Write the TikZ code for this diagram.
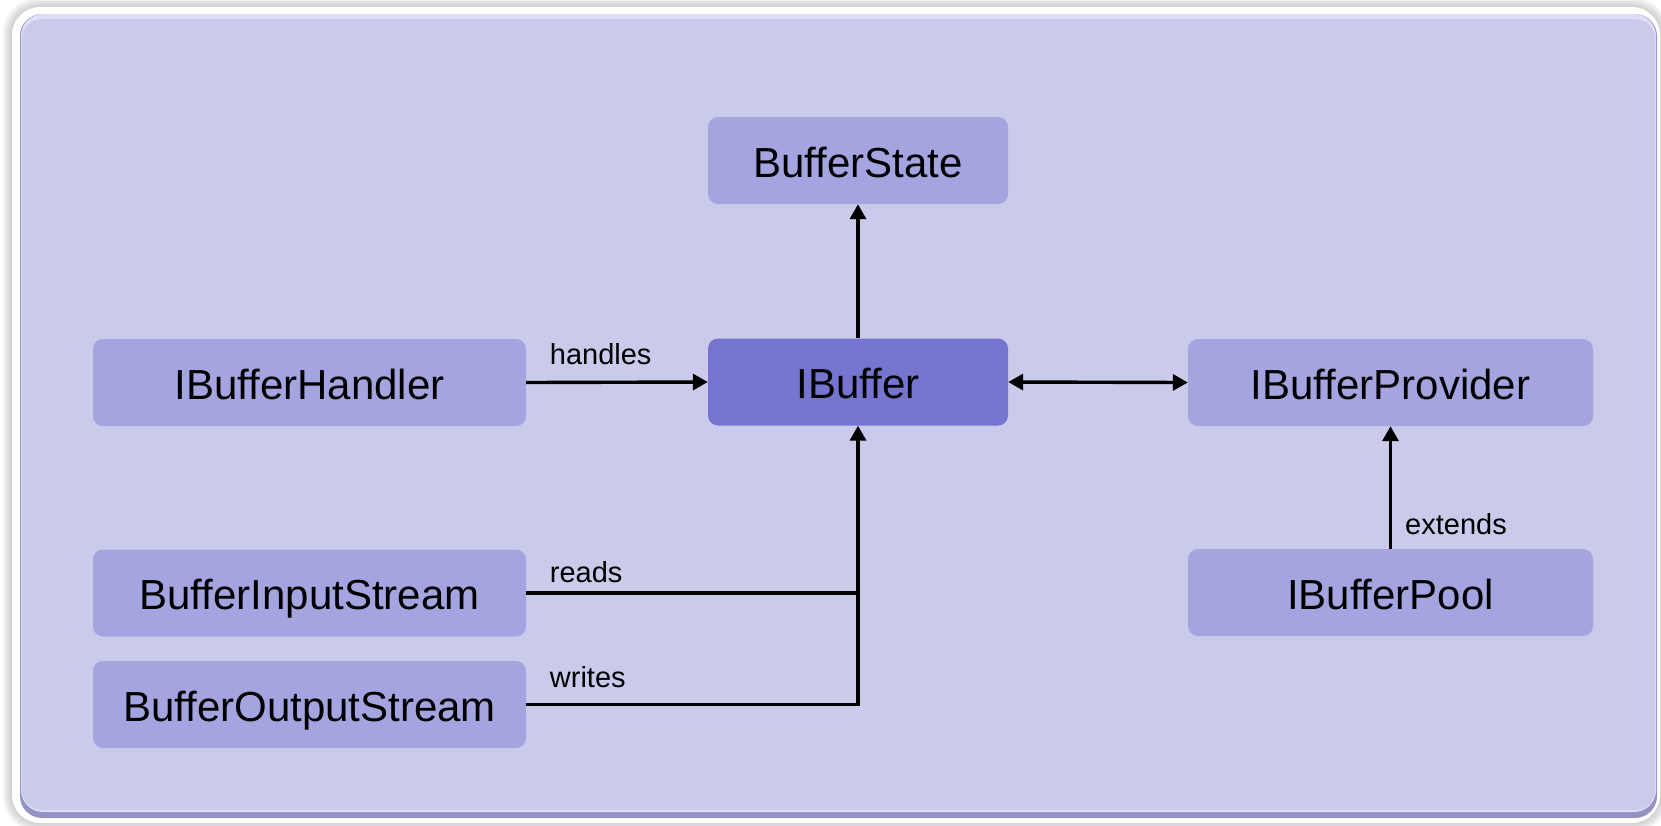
\documentclass[tikz,border=0pt]{standalone}
\usepackage{fontspec}
\setmainfont{Liberation Sans}
\usetikzlibrary{arrows.meta,calc}

\definecolor{framebg}{RGB}{202,202,234}
\definecolor{framelight}{RGB}{222,222,248}
\definecolor{framedark}{RGB}{146,146,196}
\definecolor{nodefill}{RGB}{164,164,224}
\definecolor{corefill}{RGB}{117,117,208}

\tikzset{
  box/.style={rectangle, rounded corners=10pt, fill=nodefill, inner sep=0pt,
    minimum height=87pt, text height=33pt, text depth=0pt,
    font=\fontsize{42}{50}\selectfont},
  core/.style={box, fill=corefill},
  conn/.style={line width=3.4pt, line join=miter},
  tip/.style={conn, -{Triangle[length=15pt,width=16pt]}},
  both/.style={conn, {Triangle[length=15pt,width=16pt]}-{Triangle[length=15pt,width=16pt]}},
  lbl/.style={font=\fontsize{29}{34}\selectfont, inner sep=0pt, anchor=base west},
}

\begin{document}
\begin{tikzpicture}[x=1pt, y=-1pt]
\useasboundingbox (0,0) rectangle (1661,825);

% soft shadow round the panel
\foreach \i in {1,...,10}
  \fill[black, opacity=0.018, rounded corners={28pt+\i pt}]
    (12-\i,7-\i) rectangle (1660+\i,823+\i);

% white rim, bevel and panel
\fill[white, rounded corners=28pt] (12,7) rectangle (1660,823);
\fill[framedark, rounded corners=22pt] (20,14) rectangle (1657,818);
\fill[framelight, rounded corners=22pt] (21,14) rectangle (1656,812);
\fill[framebg, rounded corners=20pt] (22,19) rectangle (1655,810);

% classes
\node[box,  minimum width=300pt] (state)    at (858,160.5)  {BufferState};
\node[core, minimum width=300pt] (buf)      at (858,382)    {IBuffer};
\node[box,  minimum width=433pt] (handler)  at (309.5,382.5) {IBufferHandler};
\node[box,  minimum width=405pt] (provider) at (1390.5,382.5) {IBufferProvider};
\node[box,  minimum width=405pt] (pool)     at (1390.5,592.5) {IBufferPool};
\node[box,  minimum width=433pt] (input)    at (309.5,593)  {BufferInputStream};
\node[box,  minimum width=433pt] (output)   at (309.5,704.5) {BufferOutputStream};

% relations
\draw[tip] (buf.north) -- (state.south);
\draw[tip] (handler.east) -- node[lbl, pos=0, xshift=22pt, yshift=18pt] {handles} (buf.west);
\draw[both] (buf.east) -- (provider.west);
\draw[tip] (pool.north) -- node[lbl, pos=0, xshift=13pt, yshift=14pt] {extends} (provider.south);
\draw[conn] (input.east) -- node[lbl, pos=0, xshift=22pt, yshift=11pt] {reads} (input.east -| buf.south);
\draw[tip] (output.east) -- node[lbl, pos=0, xshift=22pt, yshift=17pt] {writes} (output.east -| buf.south) -- (buf.south);
\end{tikzpicture}
\end{document}
